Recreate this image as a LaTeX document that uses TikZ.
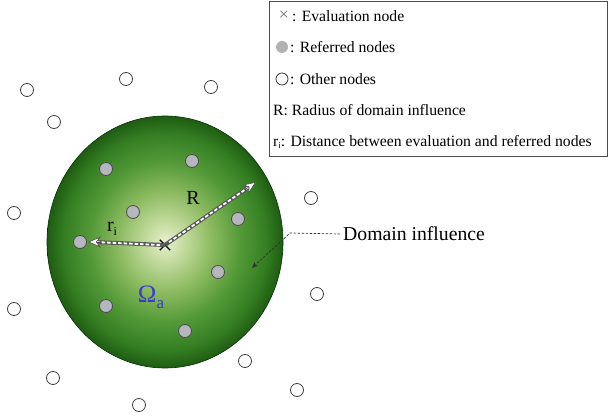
\documentclass[tikz,border=0pt]{standalone}
\usepackage{fontspec}
\setmainfont{Liberation Serif}
\usetikzlibrary{arrows.meta,shapes.misc,calc}
\definecolor{omblue}{HTML}{3A3AD0}
\definecolor{refgray}{HTML}{B6B6BE}
\definecolor{g0}{HTML}{E8F0D0}
\definecolor{g1}{HTML}{C8DEA4}
\definecolor{g2}{HTML}{8CBA60}
\definecolor{g3}{HTML}{539938}
\definecolor{g4}{HTML}{347E22}
\definecolor{g5}{HTML}{1F5C12}
\pgfdeclareradialshading{domshade}{\pgfpoint{0bp}{0bp}}{%
  color(0bp)=(g0);
  color(3.5bp)=(g1);
  color(10bp)=(g2);
  color(16bp)=(g3);
  color(21.5bp)=(g4);
  color(25bp)=(g5);
  color(50bp)=(g5)}
\tikzset{
  othernode/.style={circle,draw=black!75,fill=white,line width=0.8pt,minimum size=13pt,inner sep=0pt},
  refnode/.style={circle,draw=black!70,fill=refgray,line width=0.8pt,minimum size=13pt,inner sep=0pt},
  legtext/.style={anchor=west,inner sep=0pt,font=\fontsize{15.7}{16}\selectfont},
  lbl/.style={inner sep=0pt,font=\fontsize{20}{20}\selectfont},
  shadowline/.style={line width=4pt,black!65},
  whitedash/.style={line width=1.8pt,white,dash pattern=on 3.5pt off 2pt},
  headarrow/.style={draw=black!70,line width=0.6pt,-{Stealth[length=13pt,width=11pt,fill=white]}},
}
\begin{document}
\begin{tikzpicture}[x=1pt,y=-1pt]
\useasboundingbox (0,0) rectangle (610,419);
% domain
\shade[shading=domshade] (165,242) ellipse [x radius=118, y radius=126];
\draw[green!20!black,line width=0.6pt] (165,242) ellipse [x radius=118, y radius=126];
% other nodes
\node[othernode] (o1) at (27,90) {};
\node[othernode] (o2) at (54,122) {};
\node[othernode] (o3) at (126,79) {};
\node[othernode] (o4) at (211,87) {};
\node[othernode] (o5) at (14,213) {};
\node[othernode] (o6) at (311,198) {};
\node[othernode] (o7) at (14,309) {};
\node[othernode] (o8) at (317,294) {};
\node[othernode] (o9) at (53,378) {};
\node[othernode] (o10) at (245,361) {};
\node[othernode] (o11) at (297,390) {};
\node[othernode] (o12) at (139,405) {};
% referred nodes
\node[refnode] (r1) at (106,169) {};
\node[refnode] (r2) at (192,161) {};
\node[refnode] (r3) at (133,212) {};
\node[refnode] (r4) at (238,219) {};
\node[refnode] (r5) at (80,242) {};
\node[refnode] (r6) at (218,272) {};
\node[refnode] (r7) at (106,306) {};
\node[refnode] (r8) at (185,331) {};
% evaluation node
\node[cross out,draw=black,line width=1.3pt,minimum size=9pt,inner sep=0pt] (ev) at (165,245) {};
\coordinate (Rend) at (256,182);
% arrows
\draw[shadowline] (ev.center) -- ([xshift=6pt]r5.east);
\draw[whitedash] ([xshift=-5pt]ev.center) -- ([xshift=8pt]r5.east);
\draw[headarrow] ([xshift=14pt]r5.east) -- ([xshift=1pt]r5.east);
\draw[shadowline,shorten >=8pt] (ev.center) -- (Rend);
\draw[whitedash,shorten <=5pt,shorten >=9pt] (ev.center) -- (Rend);
\draw[headarrow] ($(Rend)!13pt!(ev.center)$) -- (Rend);
% labels
\node[lbl] (Rl) at (193,198) {R};
\node[lbl] (ril) at (112,229) {r\raisebox{-4pt}{\fontsize{12}{12}\selectfont i}};
\node[lbl,text=omblue] (om) at (151,297) {{\fontsize{25}{25}\selectfont Ω}\raisebox{-6pt}{\fontsize{17}{17}\selectfont a}};
% domain influence
\node[lbl,anchor=west,font=\fontsize{19.7}{20}\selectfont] (dom) at (343,234) {Domain influence};
\coordinate (bend) at (290,233);
\coordinate (tip) at (252,268);
\draw[black!80,line width=0.7pt,dash pattern=on 2.5pt off 1.5pt,-{Stealth[length=6pt,width=5pt]}] ([xshift=-3pt]dom.west) -- (bend) -- (tip);
% legend
\node[draw=black!70,line width=0.8pt,minimum width=338pt,minimum height=155pt,anchor=north west,inner sep=0pt] (legend) at (269,1) {};
\node[text=black!55,inner sep=0pt,font=\fontsize{18}{18}\selectfont] (lx) at (284,16) {×};
\node[legtext] (l1) at (292,16) {: Evaluation node};
\node[circle,fill=black!30,minimum size=12pt,inner sep=0pt] (lr) at (282,47) {};
\node[legtext] (l2) at (290,47) {: Referred nodes};
\node[circle,draw=black!85,line width=0.7pt,minimum size=12pt,inner sep=0pt] (lo) at (282,79) {};
\node[legtext] (l3) at (290,79) {: Other nodes};
\node[legtext] (l4) at (273,110) {R: Radius of domain influence};
\node[legtext] (l5) at (273,142) {r\raisebox{-2pt}{\fontsize{9}{9}\selectfont i}: Distance between evaluation and referred nodes};
\end{tikzpicture}
\end{document}
